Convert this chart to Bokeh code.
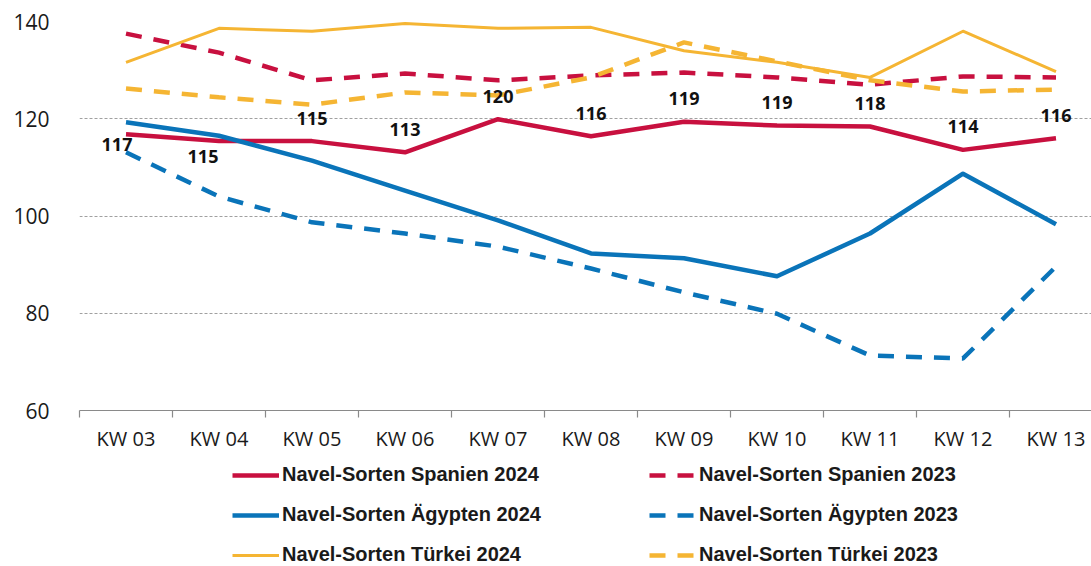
from bokeh.plotting import figure
from bokeh.layouts import column
from bokeh.models import ColumnDataSource, Range1d, FixedTicker, Legend, LegendItem
from bokeh.core.properties import value
from bokeh.embed import file_html
from bokeh.resources import INLINE

# ---------------- data ----------------
weeks = ["KW 03", "KW 04", "KW 05", "KW 06", "KW 07", "KW 08",
         "KW 09", "KW 10", "KW 11", "KW 12", "KW 13"]

spanien_2024 = [116.8, 115.4, 115.4, 113.1, 119.9, 116.4, 119.4, 118.6, 118.4, 113.6, 116.0]
spanien_2023 = [137.5, 133.6, 127.9, 129.3, 127.9, 128.9, 129.5, 128.5, 127.0, 128.7, 128.5]
aegypten_2024 = [119.3, 116.5, 111.4, 105.2, 99.1, 92.3, 91.3, 87.6, 96.4, 108.7, 98.3]
aegypten_2023 = [113.1, 104.0, 98.7, 96.4, 93.7, 89.2, 84.3, 79.9, 71.3, 70.7, 89.6]
tuerkei_2024 = [131.6, 138.6, 138.0, 139.6, 138.6, 138.8, 134.0, 131.6, 128.5, 138.0, 129.7]
tuerkei_2023 = [126.2, 124.4, 122.9, 125.4, 124.8, 128.5, 135.7, 131.8, 127.9, 125.6, 126.0]

series_names = [
    "Navel-Sorten Spanien 2024", "Navel-Sorten Ägypten 2024", "Navel-Sorten Türkei 2024",
    "Navel-Sorten Spanien 2023", "Navel-Sorten Ägypten 2023", "Navel-Sorten Türkei 2023",
]

y_ticks = [60, 80, 100, 120, 140]

# label placement (styling only): pixel offsets of the value labels
label_dx = [-9, -16, 0, 0, 0, 0, 0, 0, 0, 0, 0]
label_dy = [10, 15, -23, -23, -23, -23, -23, -23, -23, -23, -23]

# ---------------- styles ----------------
RED = "#C8103F"
BLUE = "#0A74B9"
YELLOW = "#F5B533"
TXT = "#1a1a1a"
DASH = "16 12"

xs = [i + 0.5 for i in range(len(weeks))]

FRAME_LEFT = 79
FRAME_W = 1012
FRAME_TOP = 21
FRAME_H = 389
BAND = 93.0
MAIN_H = 462
LEG_H = 566 - MAIN_H

p = figure(
    frame_width=FRAME_W, frame_height=FRAME_H,
    min_border_left=FRAME_LEFT, min_border_right=0,
    min_border_top=FRAME_TOP, min_border_bottom=MAIN_H - FRAME_TOP - FRAME_H,
    x_range=Range1d(0, FRAME_W / BAND), y_range=Range1d(60, 140),
    output_backend="svg", toolbar_location=None,
)
p.outline_line_color = None
p.background_fill_color = "white"
p.border_fill_color = "white"

# axes
p.xgrid.grid_line_color = None
p.ygrid.grid_line_color = "#a0a0a0"
p.ygrid.grid_line_dash = "3 2"
p.ygrid.grid_line_width = 1
p.ygrid.ticker = FixedTicker(ticks=y_ticks)

p.yaxis.ticker = FixedTicker(ticks=y_ticks)
p.yaxis.axis_line_color = None
p.yaxis.major_tick_line_color = None
p.yaxis.minor_tick_line_color = None
p.yaxis.major_tick_out = 0
p.yaxis.major_label_standoff = 30
p.yaxis.major_label_text_font = "Open Sans"
p.yaxis.major_label_text_font_size = "21px"
p.yaxis.major_label_text_color = TXT

p.xaxis.ticker = FixedTicker(ticks=xs, minor_ticks=list(range(len(weeks) + 1)))
p.xaxis.major_label_overrides = {x: w for x, w in zip(xs, weeks)}
p.xaxis.axis_line_color = "#8a8a8a"
p.xaxis.axis_line_width = 1.2
p.xaxis.major_tick_line_color = None
p.xaxis.major_tick_out = 0
p.xaxis.major_tick_in = 0
p.xaxis.minor_tick_line_color = "#8a8a8a"
p.xaxis.minor_tick_line_width = 1.2
p.xaxis.minor_tick_out = 7
p.xaxis.minor_tick_in = 0
p.xaxis.major_label_standoff = 7
p.xaxis.major_label_text_font = "Open Sans"
p.xaxis.major_label_text_font_size = "20px"
p.xaxis.major_label_text_color = TXT

styles = [
    dict(line_color=RED, line_width=4.5, line_join="round"),
    dict(line_color=BLUE, line_width=4.5, line_join="round"),
    dict(line_color=YELLOW, line_width=3, line_join="round"),
    dict(line_color=RED, line_width=4.5, line_dash=DASH),
    dict(line_color=BLUE, line_width=4.5, line_dash=DASH),
    dict(line_color=YELLOW, line_width=4.5, line_dash=DASH),
]
series = [spanien_2024, aegypten_2024, tuerkei_2024, spanien_2023, aegypten_2023, tuerkei_2023]

# drawing order: dashed first, then solid
for idx in [3, 5, 4, 2, 0, 1]:
    p.line(xs, series[idx], **styles[idx])

lab_src = ColumnDataSource(dict(
    x=xs, y=spanien_2024,
    label=[str(int(round(v))) for v in spanien_2024],
    dx=label_dx, dy=label_dy,
))
p.text(x="x", y="y", text="label", x_offset="dx", y_offset="dy", source=lab_src,
       text_align="center", text_baseline="middle",
       text_font=value("Open Sans"), text_font_style="bold",
       text_font_size="18px", text_color="#111111")

# ---------------- legend panel ----------------
leg = figure(
    frame_width=1091, frame_height=LEG_H,
    min_border=0, min_border_left=0, min_border_right=0, min_border_top=0, min_border_bottom=0,
    x_range=Range1d(0, 1), y_range=Range1d(0, 1),
    x_axis_location=None, y_axis_location=None,
    output_backend="svg", toolbar_location=None,
)
leg.grid.visible = False
leg.outline_line_color = None
leg.background_fill_color = "white"
leg.border_fill_color = "white"

# legend proxies: the series themselves, drawn outside this panel's visible range
proxies = [leg.line([x - 20 for x in xs], s, **st) for s, st in zip(series, styles)]

legend = Legend(
    items=[LegendItem(label=n, renderers=[r]) for n, r in zip(series_names, proxies)],
    ncols=2,
    location=(232, 0),
    glyph_width=47, glyph_height=22,
    label_standoff=3, label_width=350, label_height=22,
    spacing=17,
    padding=0, margin=0,
    border_line_color=None, background_fill_alpha=0,
    label_text_font="Liberation Sans", label_text_font_style="bold",
    label_text_font_size="20px", label_text_color=TXT,
)
leg.add_layout(legend, "center")

layout = column(p, leg, spacing=0)
open("out.html", "w").write(file_html(layout, INLINE))
